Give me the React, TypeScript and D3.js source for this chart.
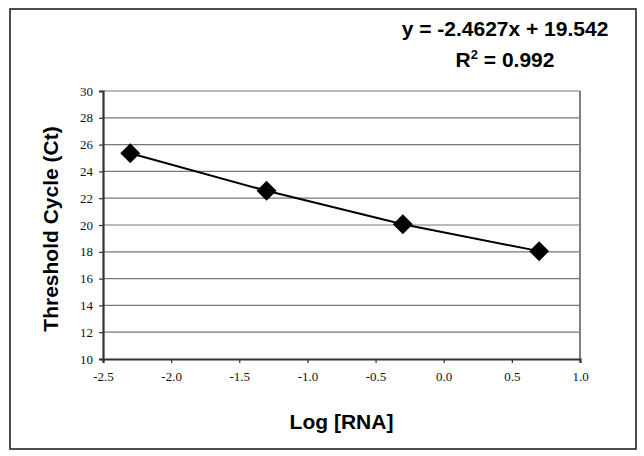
import React, { useEffect, useRef } from "react";
import * as d3 from "d3";

const logRna = [-2.3, -1.3, -0.3, 0.7];
const ctValues = [25.35, 22.55, 20.05, 18.05];
const xTicks = [-2.5, -2.0, -1.5, -1.0, -0.5, 0.0, 0.5, 1.0];
const yTicks = [10, 12, 14, 16, 18, 20, 22, 24, 26, 28, 30];
const equationText = "y = -2.4627x + 19.542";
const r2Value = "0.992";
const xTitle = "Log [RNA]";
const yTitle = "Threshold Cycle (Ct)";

const App = () => {
  const svgRef = useRef<SVGSVGElement>(null);

  useEffect(() => {
    const width = 644;
    const height = 456;
    const plot = { left: 103, right: 580, top: 91, bottom: 359 };
    const sans = "'Liberation Sans', Arial, sans-serif";
    const serif = "'Liberation Serif', 'Times New Roman', serif";

    const svg = d3.select(svgRef.current);
    svg.selectAll("*").remove();
    svg.attr("width", width).attr("height", height);

    // chart frame
    svg
      .append("rect")
      .attr("x", 10)
      .attr("y", 9)
      .attr("width", 626)
      .attr("height", 440)
      .attr("fill", "#fff")
      .attr("stroke", "#222")
      .attr("stroke-width", 1.6);

    const x = d3.scaleLinear().domain([-2.5, 1.0]).range([plot.left, plot.right]);
    const y = d3.scaleLinear().domain([10, 30]).range([plot.bottom, plot.top]);

    // grid lines
    svg
      .append("g")
      .selectAll("line")
      .data(yTicks.filter((t) => t > 10))
      .join("line")
      .attr("x1", plot.left)
      .attr("x2", plot.right)
      .attr("y1", (d) => y(d))
      .attr("y2", (d) => y(d))
      .attr("stroke", "#777")
      .attr("stroke-width", 1.2);

    // right border of plot area
    svg
      .append("line")
      .attr("x1", plot.right)
      .attr("x2", plot.right)
      .attr("y1", plot.top)
      .attr("y2", plot.bottom)
      .attr("stroke", "#808080")
      .attr("stroke-width", 2);

    const xAxis = svg
      .append("g")
      .attr("transform", `translate(0,${plot.bottom})`)
      .call(
        d3
          .axisBottom(x)
          .tickValues(xTicks)
          .tickSize(4)
          .tickPadding(9)
          .tickFormat((d) => d3.format(".1f")(d as number).replace("−", "-"))
      );
    xAxis.attr("font-family", serif).attr("font-size", 13);
    xAxis.select(".domain").attr("stroke", "#333").attr("stroke-width", 2.2);
    xAxis.selectAll(".tick line").attr("stroke", "#333").attr("stroke-width", 1.2);
    xAxis
      .selectAll(".tick text")
      .style("font-family", serif)
      .style("font-size", "13px")
      .attr("fill", "#111");

    const yAxis = svg
      .append("g")
      .attr("transform", `translate(${plot.left},0)`)
      .call(d3.axisLeft(y).tickValues(yTicks).tickSize(4).tickPadding(6));
    yAxis.attr("font-family", serif).attr("font-size", 13);
    yAxis.select(".domain").attr("stroke", "#333").attr("stroke-width", 2.2);
    yAxis.selectAll(".tick line").attr("stroke", "#333").attr("stroke-width", 1.2);
    yAxis
      .selectAll(".tick text")
      .style("font-family", serif)
      .style("font-size", "13px")
      .attr("fill", "#111");

    // series line
    const points = logRna.map((v, i) => [v, ctValues[i]] as [number, number]);
    svg
      .append("path")
      .datum(points)
      .attr("fill", "none")
      .attr("stroke", "#000")
      .attr("stroke-width", 2)
      .attr(
        "d",
        d3
          .line<[number, number]>()
          .x((d) => x(d[0]))
          .y((d) => y(d[1]))
      );

    // diamond markers
    svg
      .append("g")
      .selectAll("path")
      .data(points)
      .join("path")
      .attr("transform", (d) => `translate(${x(d[0])},${y(d[1])})`)
      .attr("d", "M0,-10L10,0L0,10L-10,0Z")
      .attr("fill", "#000");

    // axis titles
    svg
      .append("text")
      .attr("x", (plot.left + plot.right) / 2)
      .attr("y", 429)
      .attr("text-anchor", "middle")
      .attr("font-family", sans)
      .attr("font-weight", "bold")
      .attr("font-size", 21)
      .text(xTitle);

    svg
      .append("text")
      .attr("transform", `translate(58,229) rotate(-90)`)
      .attr("text-anchor", "middle")
      .attr("font-family", sans)
      .attr("font-weight", "bold")
      .attr("font-size", 21)
      .text(yTitle);

    // trendline equation
    svg
      .append("text")
      .attr("x", 505)
      .attr("y", 36)
      .attr("text-anchor", "middle")
      .attr("font-family", sans)
      .attr("font-weight", "bold")
      .attr("font-size", 21)
      .text(equationText);

    const r2 = svg
      .append("text")
      .attr("x", 505)
      .attr("y", 67)
      .attr("text-anchor", "middle")
      .attr("font-family", sans)
      .attr("font-weight", "bold")
      .attr("font-size", 21);
    r2.append("tspan").text("R");
    r2.append("tspan").attr("font-size", 13).attr("dy", -8).text("2");
    r2.append("tspan").attr("dy", 8).text(` = ${r2Value}`);
  }, []);

  return (
    <svg
      ref={svgRef}
      style={{ position: "absolute", left: 0, top: 0, display: "block" }}
    ></svg>
  );
};

export default App;
